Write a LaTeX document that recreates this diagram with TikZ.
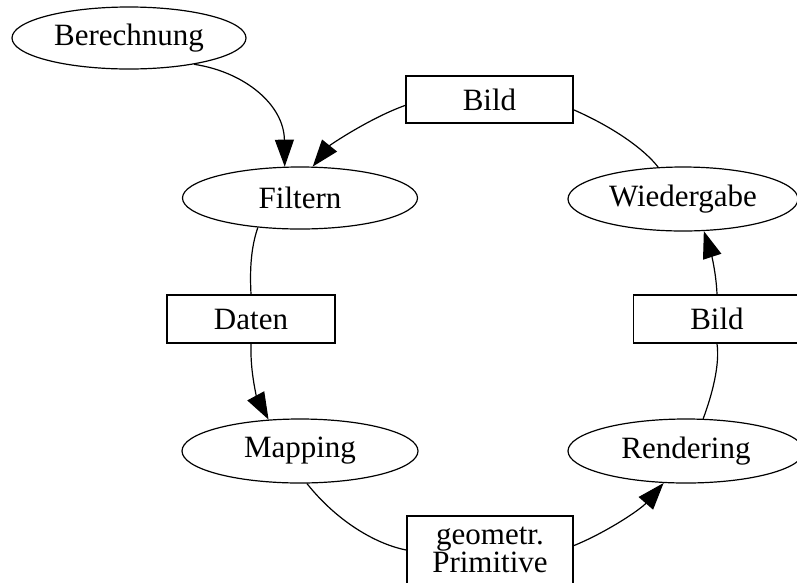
\documentclass[tikz,border=0pt]{standalone}
\usepackage{fontspec}
\setmainfont{Liberation Serif}
\usetikzlibrary{shapes.geometric,arrows.meta}
\begin{document}
\begin{tikzpicture}[x=1pt,y=-1pt,
  every node/.style={font=\fontsize{31}{24}\selectfont, inner sep=0pt},
  proc/.style={ellipse, draw, line width=1.2pt},
  databox/.style={rectangle, draw, line width=1.6pt, minimum width=167pt, minimum height=47pt},
  link/.style={line width=1.2pt},
  flow/.style={line width=1.2pt, -{Triangle[length=27pt,width=19pt]}}]
\useasboundingbox (0,0) rectangle (797,582);
\node[proc, minimum width=234pt, minimum height=62pt] (ber) at (129,38) {Berechnung};
\node[databox] (bild1) at (489.5,99.5) {Bild};
\node[proc, minimum width=235pt, minimum height=62pt] (filt) at (300,198) {Filtern};
\node[proc, minimum width=230pt, minimum height=64pt] (wied) at (683,199) {Wiedergabe};
\node[databox, minimum width=168pt, minimum height=48pt] (daten) at (251,319) {Daten};
\node[databox, minimum height=48pt] (bild2) at (717,319) {Bild};
\node[proc, minimum width=236pt, minimum height=64pt] (map) at (300,451) {Mapping};
\node[proc, minimum width=236pt, minimum height=64pt] (rend) at (686,451) {Rendering};
\node[databox, minimum width=166pt, minimum height=68pt, align=center] (geo) at (490,550) {geometr.\\Primitive};

\draw[flow] (ber.-22) .. controls (245,72) and (284,105) .. (filt.116.6);
\draw[flow] (bild1.184) .. controls (370,118) and (330,145) .. (filt.68);
\draw[link] (bild1.-7) .. controls (615,128) and (645,150) .. (wied.128);
\draw[link] (filt.215) .. controls (250,250) and (250,275) .. (daten.north);
\draw[flow] (daten.south) .. controls (250,375) and (258,400) .. (map.135);
\draw[link] (map.-78) .. controls (340,525) and (380,545) .. (geo.west);
\draw[flow] (geo.3) .. controls (605,533) and (640,510) .. (rend.235);
\draw[link] (rend.62) .. controls (712,395) and (720,365) .. (bild2.south);
\draw[flow] (bild2.north) .. controls (716,270) and (710,250) .. (wied.-57);
\end{tikzpicture}
\end{document}
